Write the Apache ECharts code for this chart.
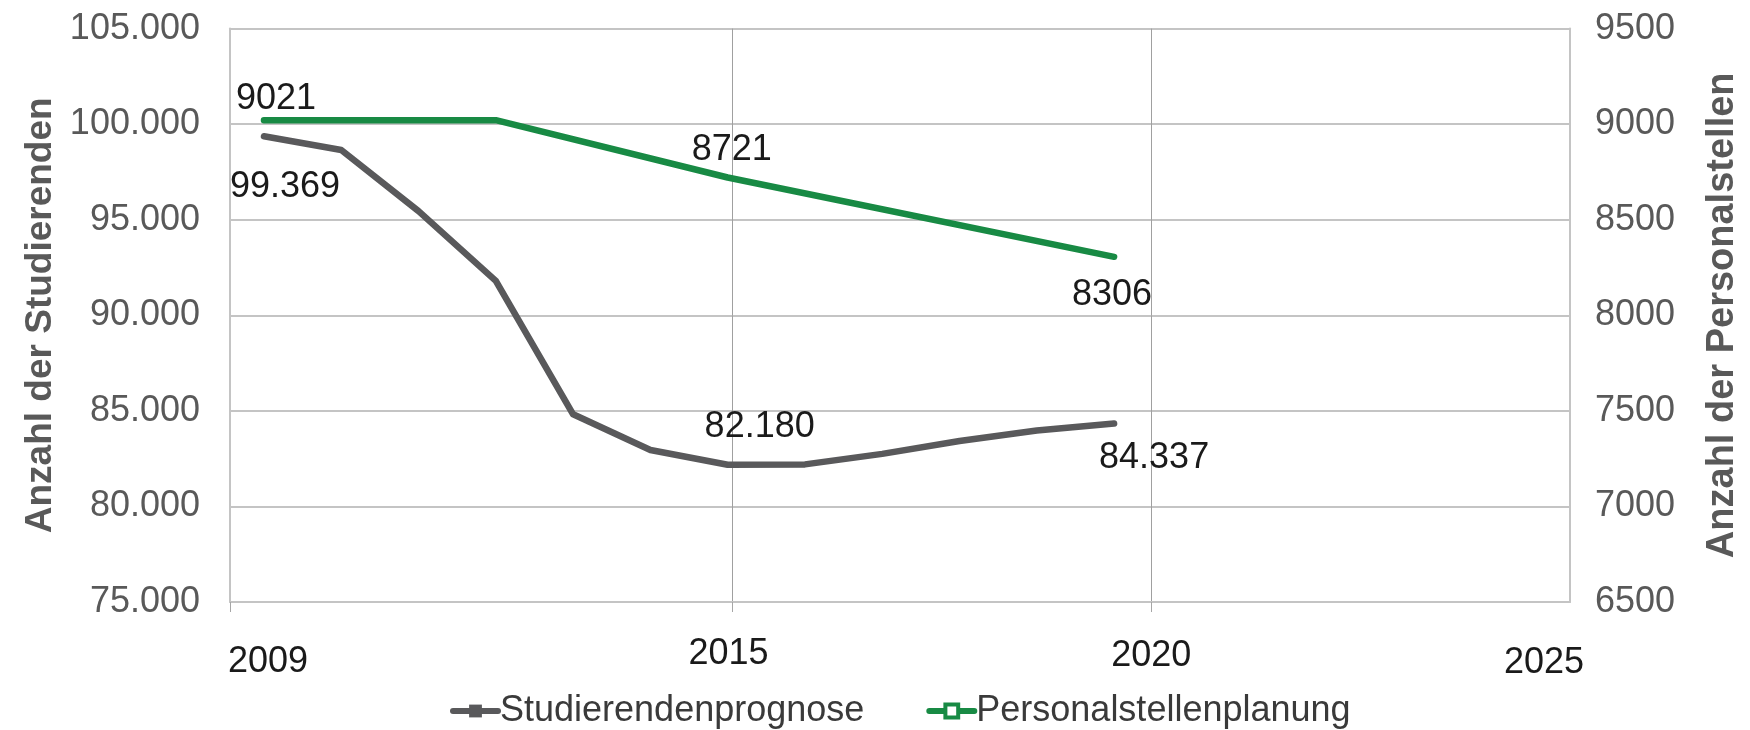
<!DOCTYPE html>
<html>
<head>
<meta charset="utf-8">
<script src="https://cdn.jsdelivr.net/npm/echarts@6/dist/echarts.min.js"></script>
<style>
html, body { margin: 0; padding: 0; background: #fff; }
#chart { width: 1750px; height: 730px; }
</style>
</head>
<body>
<div id="chart"></div>
<script>
// data
var years = [2009, 2010, 2011, 2012, 2013, 2014, 2015, 2016, 2017, 2018, 2019, 2020];
var studierende = [99369, 98650, 95450, 91800, 84820, 82950, 82180, 82200, 82750, 83420, 83970, 84337];
var stellenYears = [2009, 2012, 2015, 2020];
var stellen = [9021, 9021, 8721, 8306];
var axisYears = [2009, 2015, 2020, 2025];
var gridYears = [2015, 2020];

var font = '"Liberation Sans", Arial, sans-serif';
var grey = '#59595b';
var green = '#188a44';

function de(n) {
    return String(n).replace(/\B(?=(\d{3})+(?!\d))/g, '.');
}

// category slots for the visible year axis
var cats = [];
for (var y = axisYears[0]; y <= axisYears[axisYears.length - 1]; y++) cats.push(String(y));

// which points get a value label, and where
var greyLabels = { 2009: [21, 51], 2015: [32, -38], 2020: [40, 35] };
var greenLabels = { 2009: [12, -21], 2015: [4, -27], 2020: [-2, 38] };

function points(xs, vs, labels, fmt) {
    return xs.map(function (x, i) {
        var item = { value: [x, vs[i]] };
        if (labels[x]) {
            item.label = {
                show: true,
                position: 'inside',
                offset: labels[x],
                formatter: fmt(vs[i]),
                fontFamily: font,
                fontSize: 36,
                color: '#1a1a1a'
            };
        }
        return item;
    });
}

// per-label nudges of the hand placed year labels
var yearStyle = {
    y2009: { padding: [16, 0, 0, 76] },
    y2015: { padding: [0, 8, 0, 0] },
    y2020: { padding: [5, 0, 0, 0] },
    y2025: { padding: [18, 52, 0, 0] }
};
var rich = {};
Object.keys(yearStyle).forEach(function (k) {
    rich[k] = Object.assign({ fontFamily: font, fontSize: 36, color: '#1a1a1a', lineHeight: 40 }, yearStyle[k]);
});

var box = echarts.init(document.getElementById('chart'));

option = {
    animation: false,
    backgroundColor: '#fff',
    grid: {
        left: 230,
        right: 179,
        top: 28.6,
        bottom: 128
    },
    legend: {
        left: 445,
        top: 688,
        itemWidth: 45,
        itemHeight: 16,
        itemGap: 62,
        lineStyle: { width: 6 },
        textStyle: {
            fontFamily: font,
            fontSize: 36,
            color: '#3a3a3a',
            padding: [0, 0, 0, -3]
        },
        data: [
            { name: 'Studierendenprognose', itemStyle: { color: grey } },
            { name: 'Personalstellenplanung', itemStyle: { color: '#fff', borderColor: green, borderWidth: 4 } }
        ]
    },
    xAxis: [
        {
            type: 'category',
            data: cats,
            boundaryGap: false,
            axisLine: { lineStyle: { color: '#c4c4c4', width: 2 } },
            axisTick: {
                show: true,
                length: 10,
                lineStyle: { color: '#a6a6a6' },
                interval: function (i, v) { return +v === axisYears[0] || gridYears.indexOf(+v) >= 0; }
            },
            axisLabel: {
                margin: 32,
                interval: function (i, v) { return axisYears.indexOf(+v) >= 0; },
                formatter: function (v) { return '{y' + v + '|' + v + '}'; },
                rich: rich
            },
            splitLine: {
                show: true,
                interval: function (i, v) { return gridYears.indexOf(+v) >= 0; },
                lineStyle: { color: '#a0a0a0', width: 1 }
            }
        },
        {
            type: 'value',
            show: false,
            min: 2008.5604,
            max: 2025.899,
            splitLine: { show: false }
        }
    ],
    yAxis: [
        {
            type: 'value',
            min: 75000,
            max: 105000,
            interval: 5000,
            name: 'Anzahl der Studierenden',
            nameLocation: 'middle',
            nameGap: 170,
            nameTextStyle: {
                fontFamily: font,
                fontSize: 37,
                fontWeight: 'bold',
                color: '#595959'
            },
            axisLine: { show: true, lineStyle: { color: '#c4c4c4', width: 2 } },
            axisTick: { show: false },
            axisLabel: {
                margin: 30,
                fontFamily: font,
                fontSize: 36,
                color: '#595959',
                formatter: de
            },
            splitLine: { lineStyle: { color: '#c4c4c4', width: 2 } }
        },
        {
            type: 'value',
            min: 6500,
            max: 9500,
            interval: 500,
            name: 'Anzahl der Personalstellen',
            nameLocation: 'middle',
            nameGap: 134,
            nameTextStyle: {
                fontFamily: font,
                fontSize: 38,
                fontWeight: 'bold',
                color: '#595959'
            },
            axisLine: { show: true, lineStyle: { color: '#c4c4c4', width: 2 } },
            axisTick: { show: false },
            axisLabel: {
                margin: 25,
                fontFamily: font,
                fontSize: 36,
                color: '#595959',
                formatter: String
            },
            splitLine: { show: false }
        }
    ],
    series: [
        {
            name: 'Studierendenprognose',
            type: 'line',
            xAxisIndex: 1,
            yAxisIndex: 0,
            symbol: 'rect',
            symbolSize: 0,
            showSymbol: true,
            lineStyle: { color: grey, width: 6.5, cap: 'round', join: 'round' },
            itemStyle: { color: grey },
            emphasis: { disabled: true },
            data: points(years, studierende, greyLabels, de)
        },
        {
            name: 'Personalstellenplanung',
            type: 'line',
            xAxisIndex: 1,
            yAxisIndex: 1,
            symbol: 'rect',
            symbolSize: 0,
            showSymbol: true,
            lineStyle: { color: green, width: 6.5, cap: 'round', join: 'round' },
            itemStyle: { color: '#fff', borderColor: green, borderWidth: 2 },
            emphasis: { disabled: true },
            data: points(stellenYears, stellen, greenLabels, String)
        }
    ]
};
box.setOption(option);
</script>
</body>
</html>
